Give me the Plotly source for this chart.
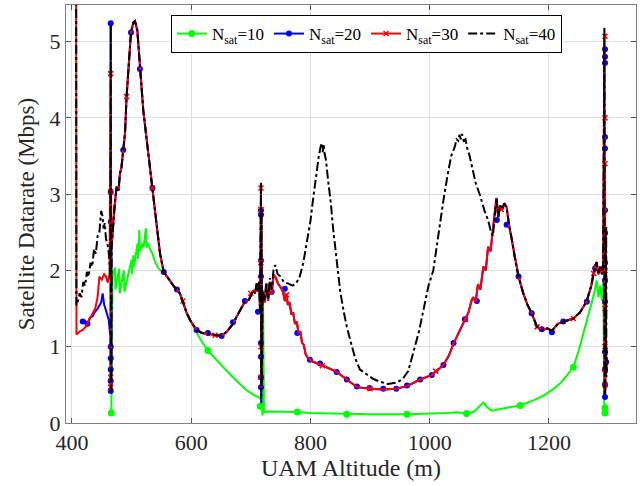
import plotly.graph_objects as go

# ---------------- data ----------------
# Black, N_sat = 40
black_left_x = [407, 407.4, 410, 413, 416, 419, 422, 425, 428, 431, 434, 437, 440, 443, 446, 449, 451, 453, 455, 457, 459, 461, 463, 464.5]
black_left_y = [5.9, 1.54, 1.6, 1.7, 1.65, 1.85, 1.8, 1.98, 1.92, 2.1, 2.05, 2.28, 2.22, 2.45, 2.5, 2.78, 2.72, 2.55, 2.62, 2.42, 2.35, 2.3, 2.1, 1.9]
black_spike1_x = [465, 465.3, 465.6, 466, 466.5]
black_spike1_y = [5.22, 0.4, 3.0, 0.45, 2.3]

# Shared by N=20, 30, 40
shared_rise_x = [469, 472, 475, 478, 480.5, 483, 486, 489, 491.6, 495.6, 499, 503, 505.7, 509.6, 514, 519.6, 526, 535, 542, 547.7]
shared_rise_y = [2.6, 2.9, 3.1, 3.05, 3.27, 3.35, 3.58, 3.8, 4.28, 4.76, 5.12, 5.25, 5.27, 5.15, 4.64, 4.1, 3.67, 3.08, 2.57, 2.22]
# Shared by all four
shared_desc_x = [554, 560, 564, 570, 576, 581, 586, 592, 598]
shared_desc_y = [1.98, 1.92, 1.87, 1.8, 1.75, 1.7, 1.59, 1.45, 1.35]
# Shared by N=20, 30, 40
shared_valley_x = [609, 618, 628, 640, 651, 660, 670, 680, 690, 697, 704, 707, 710, 712, 714, 715.5]
shared_valley_y = [1.22, 1.18, 1.17, 1.15, 1.14, 1.2, 1.3, 1.45, 1.59, 1.62, 1.74, 1.7, 1.83, 1.72, 1.85, 1.45]

black_spike2_x = [717, 717.4, 718, 718.5, 719.5]
black_spike2_y = [3.15, 0.32, 2.8, 0.5, 1.75]
black_mid_x = [720, 723, 726, 729, 732, 735, 738, 741, 745, 750, 755, 762, 770, 776, 782, 788, 794, 800, 805, 810, 814,
               817, 819, 820.5, 822, 824, 826, 830, 834, 838, 842, 846, 850, 856, 861, 868, 875, 883, 895, 905, 917, 930,
               945, 955, 964, 973, 982, 990, 998, 1006, 1015, 1023, 1030, 1036, 1042, 1045, 1048, 1050, 1052, 1054, 1057,
               1060, 1063, 1067, 1071, 1077, 1085, 1092, 1098, 1103, 1106]
black_mid_y = [1.75, 1.6, 1.85, 1.62, 1.9, 1.75, 2.0, 2.07, 1.95, 1.92, 1.85, 1.83, 1.80, 1.83, 1.92, 2.1, 2.35, 2.65, 2.97, 3.3, 3.5,
               3.62, 3.67, 3.55, 3.66, 3.52, 3.45, 3.15, 2.9, 2.55, 2.25, 1.95, 1.72, 1.45, 1.26, 1.05, 0.85, 0.70, 0.63, 0.58, 0.54, 0.51,
               0.53, 0.58, 0.68, 0.95, 1.2, 1.5, 1.8, 2.0, 2.5, 2.92, 3.25, 3.5, 3.62, 3.72, 3.7, 3.78, 3.72, 3.79, 3.7,
               3.72, 3.6, 3.5, 3.36, 3.15, 2.97, 2.78, 2.66, 2.5, 2.45]
# Shared by N=20, 30, 40
shared_right_x = [1109, 1112, 1115, 1118, 1122, 1125, 1129, 1133, 1138, 1143, 1149, 1157, 1164, 1171, 1180, 1191, 1197, 1205,
                  1215, 1224, 1233, 1241, 1252, 1263, 1271, 1277, 1280, 1283, 1286, 1289, 1291]
shared_right_y = [2.75, 2.95, 2.7, 2.85, 2.8, 2.88, 2.83, 2.6, 2.4, 2.15, 1.92, 1.70, 1.55, 1.44, 1.26, 1.22, 1.24, 1.21,
                  1.3, 1.33, 1.35, 1.37, 1.45, 1.59, 1.8, 2.05, 2.11, 1.95, 2.05, 1.95, 2.1]
black_spike3_x = [1293, 1293.4, 1294, 1294.5, 1296, 1296.4, 1297]
black_spike3_y = [5.18, 0.35, 2.0, 0.4, 2.57, 0.6, 0.9]

# Red, N_sat = 30
red_left_x = [407, 407.6, 413, 418, 423, 427, 431, 435, 439, 443, 446, 450, 454, 457, 460, 463]
red_left_y = [5.9, 1.16, 1.2, 1.22, 1.26, 1.32, 1.36, 1.44, 1.5, 1.65, 1.92, 1.88, 1.95, 1.92, 1.84, 1.95]
red_spike1_x = [465, 465.3, 465.6, 466, 466.5]
red_spike1_y = [4.6, 0.47, 3.03, 0.6, 2.3]
red_spike2_x = [717, 717.4, 718, 718.5, 719.5]
red_spike2_y = [3.1, 0.45, 2.7, 0.6, 1.7]
# Shared by N=20, 30 in the middle span
redblue_mid_x = [720, 723, 726, 729, 732, 735, 738, 742, 746, 750, 754, 757, 760, 762, 765, 768, 771, 774, 777, 780, 783,
                 786, 789, 792, 796, 800, 805, 816, 830, 844, 861, 878, 900, 922, 944, 964, 984, 1004, 1023, 1032, 1040,
                 1050, 1059, 1065, 1070, 1073, 1077, 1081, 1085, 1090, 1094, 1098, 1102, 1105]
redblue_mid_y = [1.7, 1.58, 1.8, 1.6, 1.85, 1.68, 1.95, 1.9, 1.82, 1.78, 1.72, 1.6, 1.68, 1.55, 1.58, 1.42, 1.45, 1.3,
                 1.33, 1.18, 1.2, 1.05, 1.02, 0.9, 0.85, 0.82, 0.80, 0.77, 0.72, 0.67, 0.57, 0.47, 0.45, 0.44, 0.45, 0.49,
                 0.57, 0.63, 0.76, 0.88, 1.04, 1.2, 1.36, 1.45, 1.6, 1.65, 1.58, 1.82, 1.75, 2.05, 2.0, 2.31, 2.25, 2.5]
red_spike3_x = [1293, 1293.4, 1294, 1294.5, 1295, 1295.5]
red_spike3_y = [5.1, 0.4, 3.4, 0.5, 1.9, 0.6]

# Blue, N_sat = 20
blue_left_x = [418, 422, 426, 430, 434.7, 438, 443, 446, 449, 451.5, 454, 457, 461.7, 464.4]
blue_left_y = [1.33, 1.34, 1.30, 1.38, 1.40, 1.45, 1.5, 1.55, 1.58, 1.70, 1.55, 1.48, 1.35, 1.13]
blue_spike1_x = [464.7, 465, 465.3, 465.6, 466, 466.5]
blue_spike1_y = [0.42, 5.24, 0.4, 2.64, 0.5, 2.3]
blue_spike2_x = [717, 717.4, 718, 718.5, 719.5]
blue_spike2_y = [2.8, 0.26, 2.13, 0.5, 1.7]
blue_spike3_x = [1293, 1293.4, 1294, 1294.5, 1295, 1296]
blue_spike3_y = [4.92, 0.34, 2.8, 0.45, 1.6, 0.8]

# Green, N_sat = 10
green_peak_x = [466, 467, 468, 472, 473, 479, 480, 487, 488, 500, 501, 503, 504, 510, 511, 513, 514, 518, 520, 524, 525,
                528, 531, 535, 540, 546, 552]
green_peak_y = [0.13, 1.9, 1.92, 2.04, 1.75, 2.02, 1.7, 2.0, 1.72, 2.14, 1.95, 2.2, 2.05, 2.35, 2.15, 2.53, 2.25, 2.35, 2.3,
                2.55, 2.3, 2.35, 2.28, 2.22, 2.1, 2.02, 1.98]
green_tail_x = [609, 615, 628, 645, 660, 675, 693, 705, 715, 718, 719.5, 720.5, 722, 730, 777, 800, 861, 900, 962, 1000,
                1030, 1045, 1062, 1075, 1083, 1090, 1096, 1104, 1130, 1152, 1175, 1191, 1205, 1219, 1230, 1241, 1250,
                1258, 1265, 1272, 1276, 1280, 1283, 1286, 1289, 1291, 1293, 1294, 1295]
green_tail_y = [1.2, 1.1, 0.95, 0.8, 0.68, 0.56, 0.43, 0.37, 0.33, 0.3, 0.1, 1.65, 0.14, 0.15, 0.145, 0.13, 0.115, 0.115,
                0.115, 0.12, 0.13, 0.14, 0.125, 0.15, 0.22, 0.27, 0.21, 0.16, 0.2, 0.23, 0.3, 0.36, 0.43, 0.52, 0.62,
                0.73, 0.95, 1.18, 1.38, 1.61, 1.7, 1.87, 1.65, 1.8, 1.6, 1.9, 0.12, 0.25, 0.13]

# Marker sample points (where the original plot shows markers)
green_mk_x = [466, 628, 716, 778, 861, 962, 1062, 1152, 1241, 1294, 1294]
green_mk_y = [0.13, 0.95, 0.22, 0.145, 0.115, 0.115, 0.125, 0.23, 0.73, 0.13, 0.2]
blue_mk_x = [418, 426, 465, 465, 465, 465, 465, 465, 465, 465, 486, 499, 514, 535, 554, 576, 609, 628, 651, 670, 690,
             712, 717, 717, 717, 717, 717, 717, 717, 717, 735, 757, 778, 799, 816, 844, 861, 878, 899, 922, 944, 962,
             984, 1003.5, 1023, 1040, 1059, 1079, 1112.6, 1129, 1149, 1171, 1188, 1205, 1224, 1263.5, 1277.5,
             1294, 1294, 1294, 1294, 1294, 1294, 1294, 1294, 1294, 1294, 1294, 1294, 1294, 1294, 1296]
blue_mk_y = [1.33, 1.30, 5.24, 3.03, 2.64, 1.0, 0.85, 0.7, 0.55, 0.42, 3.58, 5.12, 4.64, 3.08, 1.98, 1.75, 1.22, 1.18,
             1.14, 1.32, 1.6, 1.46, 2.79, 2.73, 2.13, 1.92, 1.05, 0.87, 0.6, 0.47, 1.72, 1.76, 1.18, 0.83, 0.78, 0.67,
             0.57, 0.48, 0.46, 0.45, 0.45, 0.49, 0.57, 0.63, 0.76, 1.05, 1.36, 1.6, 2.66, 2.6, 1.92, 1.44, 1.23,
             1.19, 1.33, 1.59, 2.03, 4.9, 4.8, 4.72, 3.75, 3.6, 2.79, 2.49, 2.1, 1.87, 1.59, 0.93, 0.7, 0.5, 0.34, 0.8]
red_mk_x = [465, 465, 465, 465, 491.6, 535, 586, 640, 700, 717, 717, 717, 717, 717, 760, 820, 900, 1010, 1060,
            1120, 1180, 1241, 1275, 1294, 1294, 1294, 1294, 1294, 1294, 1294, 1294]
red_mk_y = [4.58, 3.03, 0.6, 0.47, 4.28, 3.08, 1.6, 1.15, 1.7, 3.08, 2.8, 2.1, 1.0, 0.6, 1.68, 0.75, 0.45, 0.68, 1.36,
            2.8, 1.26, 1.37, 1.96, 5.07, 4.0, 3.4, 2.0, 1.5, 1.0, 0.7, 0.5]

legend_names = ["N<sub>sat</sub>=10", "N<sub>sat</sub>=20", "N<sub>sat</sub>=30", "N<sub>sat</sub>=40"]
x_ticks = [400, 600, 800, 1000, 1200]
y_ticks = [0, 1, 2, 3, 4, 5]

# ---------------- assemble series ----------------
green_x = green_peak_x + shared_desc_x + green_tail_x
green_y = green_peak_y + shared_desc_y + green_tail_y
blue_x = (blue_left_x + blue_spike1_x + shared_rise_x + shared_desc_x + shared_valley_x + blue_spike2_x
          + redblue_mid_x + shared_right_x + blue_spike3_x)
blue_y = (blue_left_y + blue_spike1_y + shared_rise_y + shared_desc_y + shared_valley_y + blue_spike2_y
          + redblue_mid_y + shared_right_y + blue_spike3_y)
red_x = (red_left_x + red_spike1_x + shared_rise_x + shared_desc_x + shared_valley_x + red_spike2_x
         + redblue_mid_x + shared_right_x + red_spike3_x)
red_y = (red_left_y + red_spike1_y + shared_rise_y + shared_desc_y + shared_valley_y + red_spike2_y
         + redblue_mid_y + shared_right_y + red_spike3_y)
black_x = (black_left_x + black_spike1_x + shared_rise_x + shared_desc_x + shared_valley_x + black_spike2_x
           + black_mid_x + shared_right_x + black_spike3_x)
black_y = (black_left_y + black_spike1_y + shared_rise_y + shared_desc_y + shared_valley_y + black_spike2_y
           + black_mid_y + shared_right_y + black_spike3_y)

GREEN, BLUE, RED, BLACK = "#00ff00", "#0000ff", "#ff0000", "#000000"
FONT = "Liberation Serif"

fig = go.Figure()

def add_series(x, y, mx, my, color, name, dash, symbol, msize, mline):
    fig.add_trace(go.Scatter(x=x, y=y, mode="lines", showlegend=False,
                             line=dict(color=color, width=2, dash=dash), hoverinfo="skip"))
    if mx:
        fig.add_trace(go.Scatter(x=mx, y=my, mode="markers", showlegend=False, hoverinfo="skip",
                                 marker=dict(symbol=symbol, size=msize, color=color,
                                             line=dict(color=color, width=mline))))
    fig.add_trace(go.Scatter(x=[None], y=[None], name=name,
                             mode="lines+markers" if mx else "lines",
                             line=dict(color=color, width=2, dash=dash),
                             marker=dict(symbol=symbol, size=msize, color=color,
                                         line=dict(color=color, width=mline))))

add_series(green_x, green_y, green_mk_x, green_mk_y, GREEN, legend_names[0], "solid", "circle", 7, 0)
add_series(blue_x, blue_y, blue_mk_x, blue_mk_y, BLUE, legend_names[1], "solid", "circle", 6, 0)
add_series(red_x, red_y, red_mk_x, red_mk_y, RED, legend_names[2], "solid", "x-thin", 5, 1.5)
add_series(black_x, black_y, [], [], BLACK, legend_names[3], "dashdot", "circle", 1, 0)

axis_common = dict(showgrid=True, gridcolor="#dedede", gridwidth=1, zeroline=False,
                   showline=True, linecolor="#808080", linewidth=1, mirror="ticks",
                   ticks="inside", ticklen=5, tickcolor="#555555", tickwidth=1,
                   tickfont=dict(family=FONT, size=22, color="#262626"), automargin=False)

fig.update_layout(
    width=644, height=486,
    margin=dict(l=66, r=8, t=5, b=63),
    paper_bgcolor="white", plot_bgcolor="white",
    template="none",
    hovermode=False,
    xaxis=dict(range=[390, 1346], tickvals=x_ticks, ticktext=[str(v) for v in x_ticks],
               title=dict(text="UAM Altitude (m)", font=dict(family=FONT, size=24, color="#262626"), standoff=1),
               **axis_common),
    yaxis=dict(range=[0, 5.48], tickvals=y_ticks, ticktext=[str(v) for v in y_ticks],
               title=dict(text="Satellite Datarate (Mbps)", font=dict(family=FONT, size=23, color="#262626"), standoff=8),
               **axis_common),
    legend=dict(orientation="h", x=0.184, y=0.976, xanchor="left", yanchor="top",
                bgcolor="white", bordercolor="#000000", borderwidth=1,
                font=dict(family=FONT, size=17, color="#000000"), itemwidth=30,
                tracegroupgap=0),
)

fig.write_html("out.html", config={"displayModeBar": False, "staticPlot": True},
               post_script="document.body.style.margin='0';document.body.style.padding='0';")
